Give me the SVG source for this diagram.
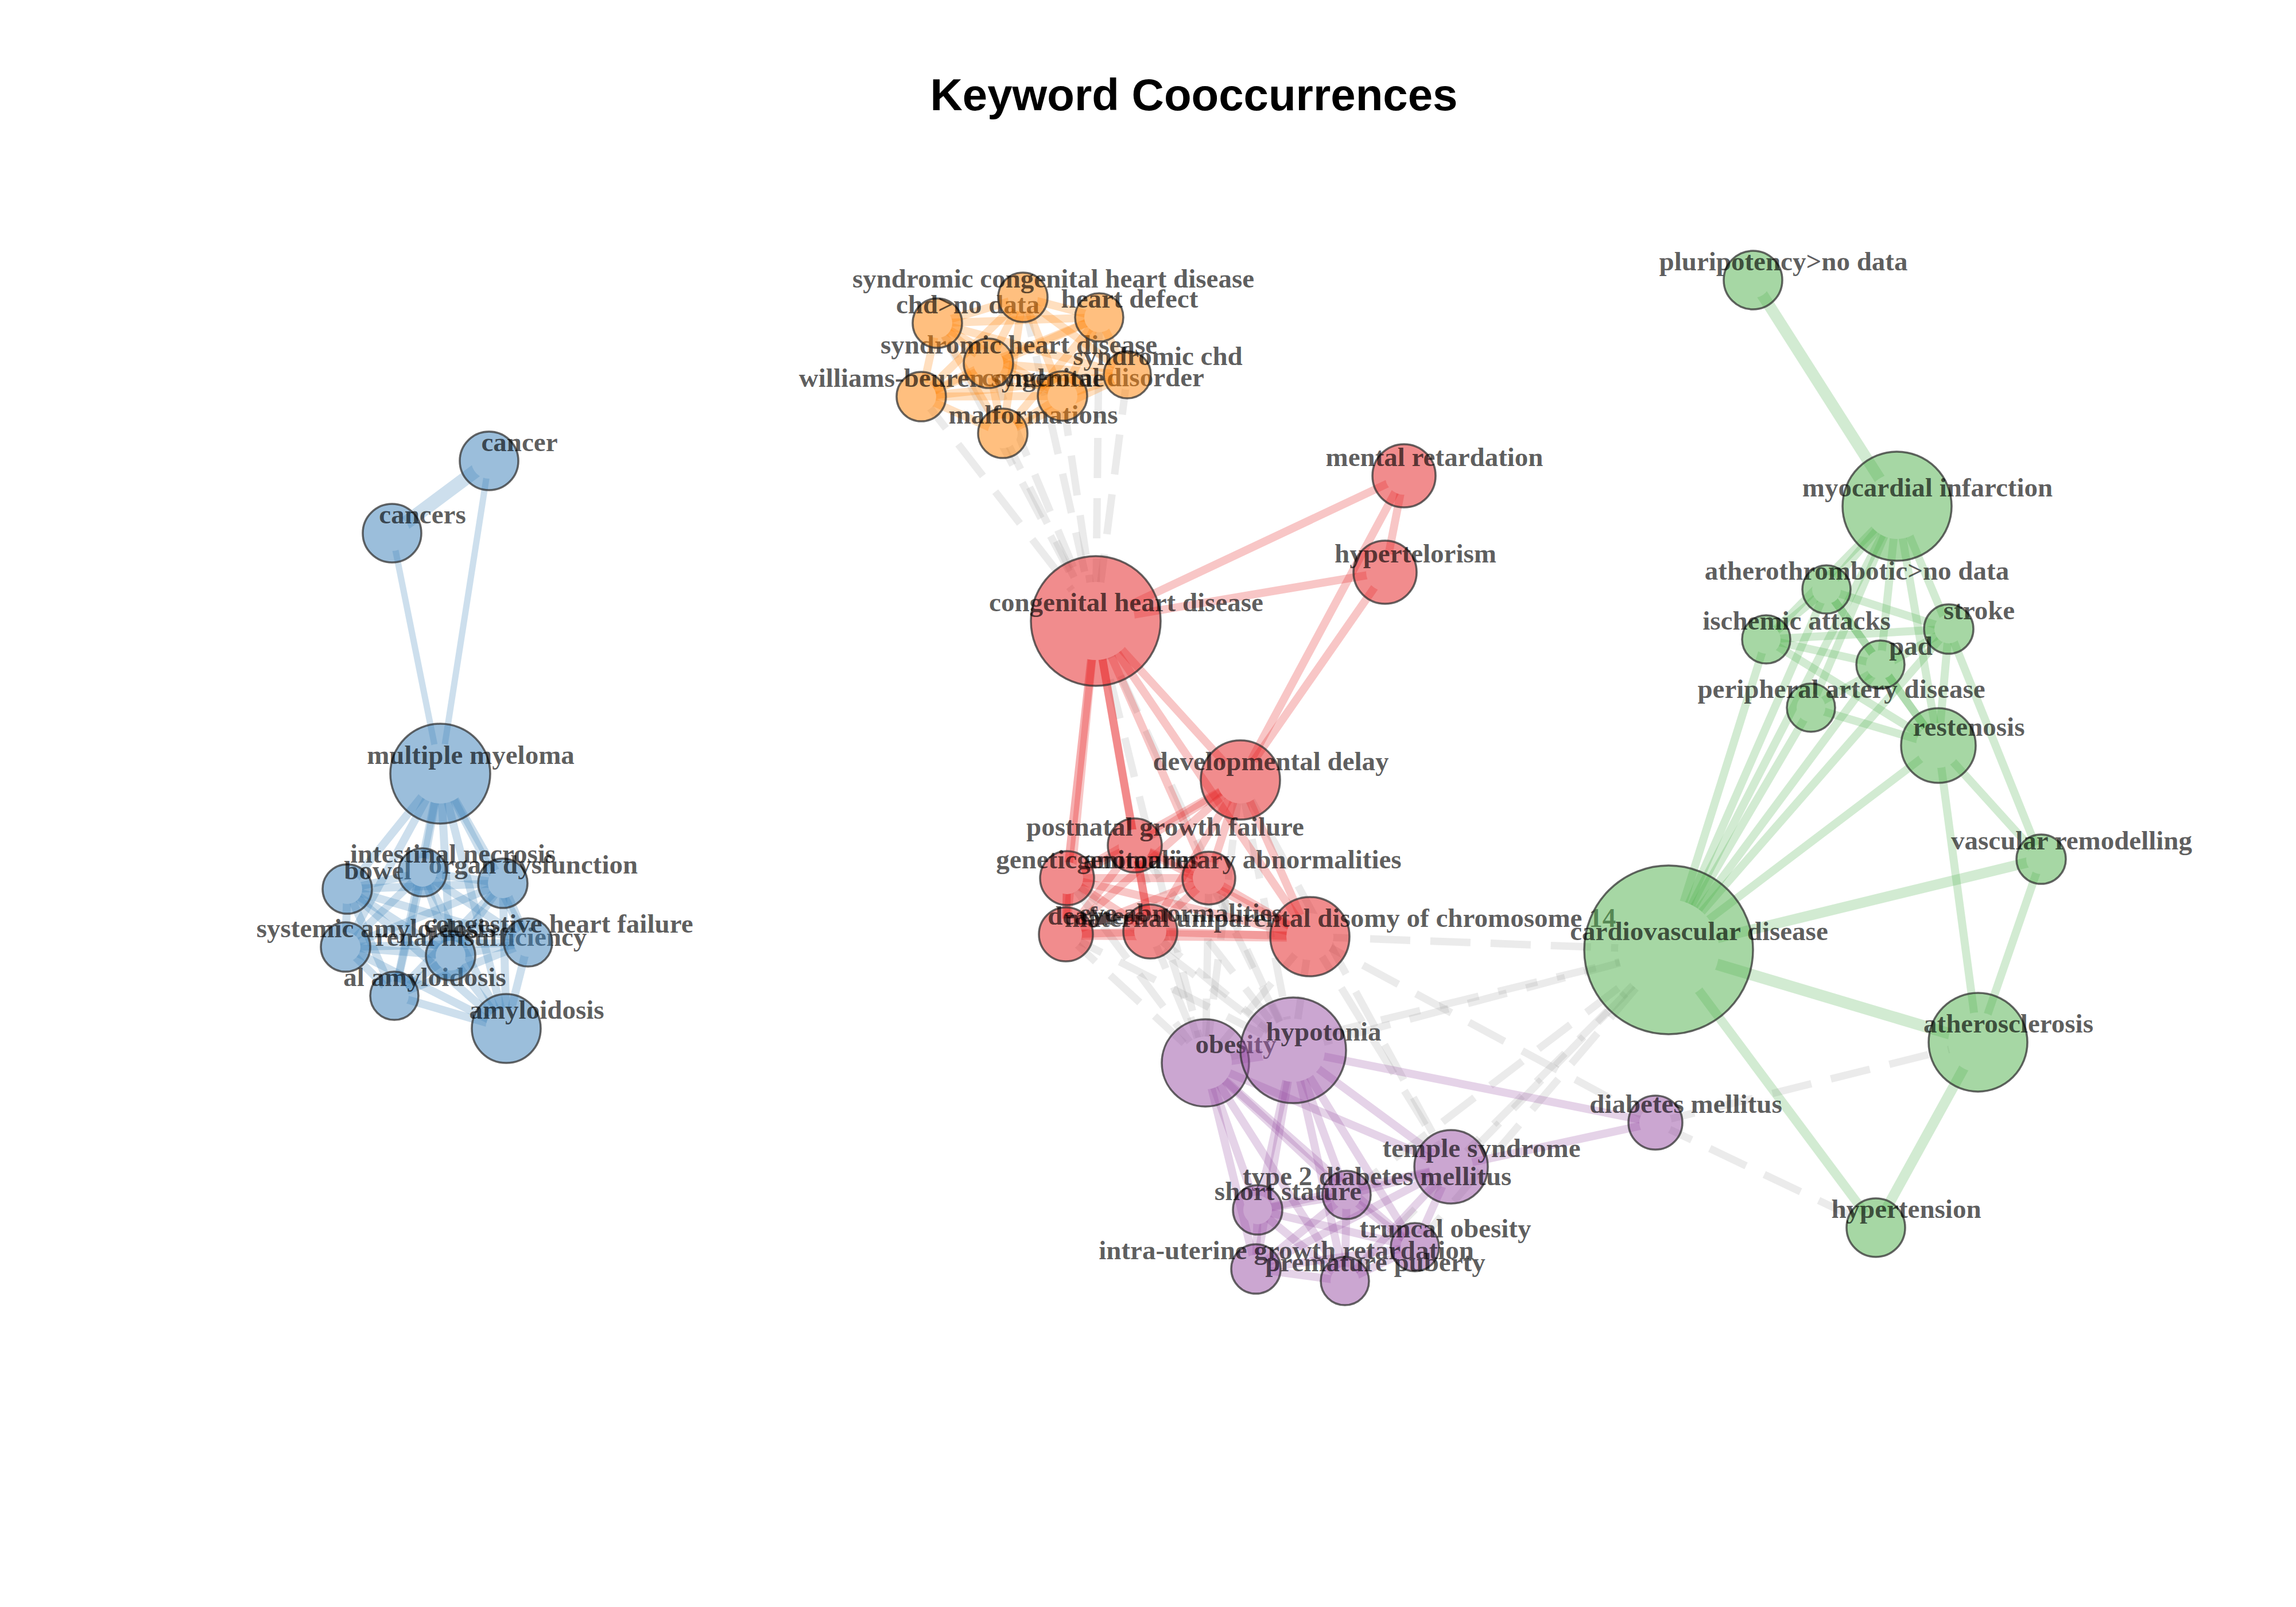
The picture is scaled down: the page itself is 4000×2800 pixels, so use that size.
<svg xmlns="http://www.w3.org/2000/svg" width="4000" height="2800" viewBox="0 0 4000 2800">
<style>
.e{fill:none;stroke-linecap:round;stroke-opacity:.25;stroke-width:14}
.eb{stroke:#377EB8}.eo{stroke:#FF7F00}.er{stroke:#E41A1C}.ep{stroke:#984EA3}.eg{stroke:#4DAF4A}
.ex{stroke:#9a9a9a;stroke-opacity:.2;stroke-dasharray:70 35;stroke-width:13;stroke-linecap:butt}
.n{fill-opacity:.5;stroke:#333;stroke-opacity:.75;stroke-width:3.5}
.nb{fill:#377EB8}.no{fill:#FF7F00}.nr{fill:#E41A1C}.np{fill:#984EA3}.ng{fill:#4DAF4A}
.l{font-family:"Liberation Serif","Times New Roman",serif;font-weight:bold;font-size:47px;fill:#000;fill-opacity:.65;text-anchor:middle}
.t{font-family:"Liberation Sans",Arial,sans-serif;font-weight:bold;font-size:78px;fill:#000;text-anchor:middle}
</style>
<defs>
<mask id="hole" maskUnits="userSpaceOnUse" x="0" y="0" width="4000" height="2800">
<rect x="0" y="0" width="4000" height="2800" fill="#fff"/>
<g fill="#000">
<circle cx="852" cy="803" r="31"/><circle cx="683" cy="929" r="31"/><circle cx="767" cy="1348" r="52"/><circle cx="605" cy="1549" r="26"/><circle cx="736" cy="1520" r="25"/><circle cx="876" cy="1539" r="26"/><circle cx="602" cy="1650" r="26"/><circle cx="785" cy="1665" r="26"/><circle cx="920" cy="1642" r="25"/><circle cx="687" cy="1735" r="25"/><circle cx="882" cy="1792" r="36"/>
<circle cx="1782" cy="518" r="26"/><circle cx="1633" cy="563" r="26"/><circle cx="1915" cy="553" r="26"/><circle cx="1722" cy="633" r="26"/><circle cx="1964" cy="653" r="26"/><circle cx="1605" cy="691" r="26"/><circle cx="1851" cy="690" r="26"/><circle cx="1747" cy="755" r="26"/>
<circle cx="1909" cy="1082" r="68"/><circle cx="2446" cy="829" r="33"/><circle cx="2413" cy="997" r="33"/><circle cx="2161" cy="1359" r="41"/><circle cx="1977" cy="1473" r="28"/><circle cx="1859" cy="1530" r="28"/><circle cx="2106" cy="1530" r="28"/><circle cx="1857" cy="1628" r="28"/><circle cx="2004" cy="1623" r="28"/><circle cx="2282" cy="1632" r="41"/>
<circle cx="2100" cy="1852" r="46"/><circle cx="2253" cy="1830" r="55"/><circle cx="2884" cy="1956" r="28"/><circle cx="2528" cy="2033" r="38"/><circle cx="2346" cy="2082" r="25"/><circle cx="2191" cy="2108" r="25"/><circle cx="2465" cy="2173" r="25"/><circle cx="2188" cy="2211" r="25"/><circle cx="2343" cy="2232" r="25"/>
<circle cx="3054" cy="488" r="31"/><circle cx="3305" cy="882" r="57"/><circle cx="3182" cy="1027" r="25"/><circle cx="3077" cy="1114" r="25"/><circle cx="3395" cy="1096" r="25"/><circle cx="3276" cy="1158" r="25"/><circle cx="3155" cy="1233" r="25"/><circle cx="3377" cy="1299" r="39"/><circle cx="3556" cy="1497" r="26"/><circle cx="2907" cy="1655" r="88"/><circle cx="3446" cy="1816" r="52"/><circle cx="3268" cy="2139" r="31"/>
</g>
</mask>
</defs>
<rect x="0" y="0" width="4000" height="2800" fill="#fff"/>
<text class="t" x="2080" y="192">Keyword Cooccurrences</text>

<g id="connectors" mask="url(#hole)">
<!-- gray inter-cluster -->
<g class="e ex">
<line x1="1782" y1="518" x2="1909" y2="1082"/><line x1="1633" y1="563" x2="1909" y2="1082"/><line x1="1915" y1="553" x2="1909" y2="1082"/><line x1="1722" y1="633" x2="1909" y2="1082"/><line x1="1964" y1="653" x2="1909" y2="1082"/><line x1="1605" y1="691" x2="1909" y2="1082"/><line x1="1851" y1="690" x2="1909" y2="1082"/><line x1="1747" y1="755" x2="1909" y2="1082"/>
<line x1="1909" y1="1082" x2="2100" y2="1852"/><line x1="1909" y1="1082" x2="2253" y2="1830"/>
<line x1="2161" y1="1359" x2="2100" y2="1852"/><line x1="2161" y1="1359" x2="2253" y2="1830"/><line x1="2161" y1="1359" x2="2528" y2="2033"/>
<line x1="1977" y1="1473" x2="2100" y2="1852"/><line x1="1977" y1="1473" x2="2253" y2="1830"/>
<line x1="1859" y1="1530" x2="2100" y2="1852"/><line x1="1859" y1="1530" x2="2253" y2="1830"/>
<line x1="2106" y1="1530" x2="2100" y2="1852"/><line x1="2106" y1="1530" x2="2253" y2="1830"/>
<line x1="1857" y1="1628" x2="2100" y2="1852"/><line x1="1857" y1="1628" x2="2253" y2="1830"/>
<line x1="2004" y1="1623" x2="2100" y2="1852"/><line x1="2004" y1="1623" x2="2253" y2="1830"/>
<line x1="2282" y1="1632" x2="2100" y2="1852"/><line x1="2282" y1="1632" x2="2253" y2="1830"/>
<line x1="2282" y1="1632" x2="2884" y2="1956"/><line x1="2282" y1="1632" x2="2528" y2="2033"/>
<line x1="2282" y1="1632" x2="2907" y2="1655"/>
<line x1="2100" y1="1852" x2="2907" y2="1655"/><line x1="2253" y1="1830" x2="2907" y2="1655"/><line x1="2528" y1="2033" x2="2907" y2="1655"/><line x1="2346" y1="2082" x2="2907" y2="1655"/><line x1="2465" y1="2173" x2="2907" y2="1655"/><line x1="2343" y1="2232" x2="2907" y2="1655"/>
<line x1="2884" y1="1956" x2="3446" y2="1816"/><line x1="2884" y1="1956" x2="3268" y2="2139"/>
</g>
<!-- blue -->
<g class="e eb">
<line x1="852" y1="803" x2="683" y2="929" stroke-width="24"/><line x1="852" y1="803" x2="767" y2="1348" stroke-width="11"/><line x1="683" y1="929" x2="767" y2="1348" stroke-width="11"/>
<line x1="767" y1="1348" x2="605" y2="1549"/><line x1="767" y1="1348" x2="736" y2="1520"/><line x1="767" y1="1348" x2="876" y2="1539"/><line x1="767" y1="1348" x2="602" y2="1650"/><line x1="767" y1="1348" x2="785" y2="1665"/><line x1="767" y1="1348" x2="920" y2="1642"/><line x1="767" y1="1348" x2="687" y2="1735"/><line x1="767" y1="1348" x2="882" y2="1792"/>
<line x1="605" y1="1549" x2="736" y2="1520"/><line x1="605" y1="1549" x2="876" y2="1539"/><line x1="605" y1="1549" x2="602" y2="1650"/><line x1="605" y1="1549" x2="785" y2="1665"/><line x1="605" y1="1549" x2="920" y2="1642"/><line x1="605" y1="1549" x2="687" y2="1735"/><line x1="605" y1="1549" x2="882" y2="1792"/>
<line x1="736" y1="1520" x2="876" y2="1539"/><line x1="736" y1="1520" x2="602" y2="1650"/><line x1="736" y1="1520" x2="785" y2="1665"/><line x1="736" y1="1520" x2="920" y2="1642"/><line x1="736" y1="1520" x2="687" y2="1735"/><line x1="736" y1="1520" x2="882" y2="1792"/>
<line x1="876" y1="1539" x2="602" y2="1650"/><line x1="876" y1="1539" x2="785" y2="1665"/><line x1="876" y1="1539" x2="920" y2="1642"/><line x1="876" y1="1539" x2="687" y2="1735"/><line x1="876" y1="1539" x2="882" y2="1792"/>
<line x1="602" y1="1650" x2="785" y2="1665"/><line x1="602" y1="1650" x2="920" y2="1642"/><line x1="602" y1="1650" x2="687" y2="1735"/><line x1="602" y1="1650" x2="882" y2="1792"/>
<line x1="785" y1="1665" x2="920" y2="1642"/><line x1="785" y1="1665" x2="687" y2="1735"/><line x1="785" y1="1665" x2="882" y2="1792"/>
<line x1="920" y1="1642" x2="687" y2="1735"/><line x1="920" y1="1642" x2="882" y2="1792"/><line x1="687" y1="1735" x2="882" y2="1792"/>
</g>
<!-- orange -->
<g class="e eo">
<line x1="1782" y1="518" x2="1633" y2="563"/><line x1="1782" y1="518" x2="1915" y2="553"/><line x1="1782" y1="518" x2="1722" y2="633"/><line x1="1782" y1="518" x2="1964" y2="653"/><line x1="1782" y1="518" x2="1605" y2="691"/><line x1="1782" y1="518" x2="1851" y2="690"/><line x1="1782" y1="518" x2="1747" y2="755"/>
<line x1="1633" y1="563" x2="1915" y2="553"/><line x1="1633" y1="563" x2="1722" y2="633"/><line x1="1633" y1="563" x2="1964" y2="653"/><line x1="1633" y1="563" x2="1605" y2="691"/><line x1="1633" y1="563" x2="1851" y2="690"/><line x1="1633" y1="563" x2="1747" y2="755"/>
<line x1="1915" y1="553" x2="1722" y2="633"/><line x1="1915" y1="553" x2="1964" y2="653"/><line x1="1915" y1="553" x2="1605" y2="691"/><line x1="1915" y1="553" x2="1851" y2="690"/><line x1="1915" y1="553" x2="1747" y2="755"/>
<line x1="1722" y1="633" x2="1964" y2="653"/><line x1="1722" y1="633" x2="1605" y2="691"/><line x1="1722" y1="633" x2="1851" y2="690"/><line x1="1722" y1="633" x2="1747" y2="755"/>
<line x1="1964" y1="653" x2="1605" y2="691"/><line x1="1964" y1="653" x2="1851" y2="690"/><line x1="1964" y1="653" x2="1747" y2="755"/>
<line x1="1605" y1="691" x2="1851" y2="690"/><line x1="1605" y1="691" x2="1747" y2="755"/><line x1="1851" y1="690" x2="1747" y2="755"/>
</g>
<!-- red -->
<g class="e er">
<line x1="1909" y1="1082" x2="2446" y2="829"/><line x1="1909" y1="1082" x2="2413" y2="997"/><line x1="1909" y1="1082" x2="2161" y2="1359"/><line x1="1909" y1="1082" x2="1977" y2="1473"/><line x1="1909" y1="1082" x2="1859" y2="1530" stroke-width="15" stroke-opacity=".35"/><line x1="1909" y1="1082" x2="2106" y2="1530"/><line x1="1909" y1="1082" x2="1857" y2="1628"/><line x1="1909" y1="1082" x2="2004" y2="1623" stroke-width="14" stroke-opacity=".35"/><line x1="1909" y1="1082" x2="2282" y2="1632"/>
<line x1="2446" y1="829" x2="2413" y2="997"/><line x1="2446" y1="829" x2="2161" y2="1359"/><line x1="2413" y1="997" x2="2161" y2="1359"/>
<line x1="2161" y1="1359" x2="1977" y2="1473"/><line x1="2161" y1="1359" x2="1859" y2="1530"/><line x1="2161" y1="1359" x2="2106" y2="1530"/><line x1="2161" y1="1359" x2="1857" y2="1628"/><line x1="2161" y1="1359" x2="2004" y2="1623"/><line x1="2161" y1="1359" x2="2282" y2="1632"/>
<line x1="1977" y1="1473" x2="1859" y2="1530"/><line x1="1977" y1="1473" x2="2106" y2="1530"/><line x1="1977" y1="1473" x2="1857" y2="1628"/><line x1="1977" y1="1473" x2="2004" y2="1623"/><line x1="1977" y1="1473" x2="2282" y2="1632"/>
<line x1="1859" y1="1530" x2="2106" y2="1530"/><line x1="1859" y1="1530" x2="1857" y2="1628" stroke-opacity=".4"/><line x1="1859" y1="1530" x2="2004" y2="1623"/><line x1="1859" y1="1530" x2="2282" y2="1632"/>
<line x1="2106" y1="1530" x2="1857" y2="1628"/><line x1="2106" y1="1530" x2="2004" y2="1623"/><line x1="2106" y1="1530" x2="2282" y2="1632"/>
<line x1="1857" y1="1628" x2="2004" y2="1623"/><line x1="1857" y1="1628" x2="2282" y2="1632" stroke-width="18"/><line x1="2004" y1="1623" x2="2282" y2="1632"/>
</g>
<!-- purple -->
<g class="e ep">
<line x1="2100" y1="1852" x2="2253" y2="1830" stroke-width="20"/><line x1="2253" y1="1830" x2="2884" y2="1956"/><line x1="2528" y1="2033" x2="2884" y2="1956"/>
<line x1="2100" y1="1852" x2="2528" y2="2033"/><line x1="2100" y1="1852" x2="2346" y2="2082"/><line x1="2100" y1="1852" x2="2191" y2="2108"/><line x1="2100" y1="1852" x2="2465" y2="2173"/><line x1="2100" y1="1852" x2="2188" y2="2211"/><line x1="2100" y1="1852" x2="2343" y2="2232"/>
<line x1="2253" y1="1830" x2="2528" y2="2033"/><line x1="2253" y1="1830" x2="2346" y2="2082"/><line x1="2253" y1="1830" x2="2191" y2="2108"/><line x1="2253" y1="1830" x2="2465" y2="2173"/><line x1="2253" y1="1830" x2="2188" y2="2211"/><line x1="2253" y1="1830" x2="2343" y2="2232"/>
<line x1="2528" y1="2033" x2="2346" y2="2082"/><line x1="2528" y1="2033" x2="2191" y2="2108"/><line x1="2528" y1="2033" x2="2465" y2="2173"/><line x1="2528" y1="2033" x2="2188" y2="2211"/><line x1="2528" y1="2033" x2="2343" y2="2232"/>
<line x1="2346" y1="2082" x2="2191" y2="2108"/><line x1="2346" y1="2082" x2="2465" y2="2173"/><line x1="2346" y1="2082" x2="2188" y2="2211"/><line x1="2346" y1="2082" x2="2343" y2="2232"/>
<line x1="2191" y1="2108" x2="2465" y2="2173"/><line x1="2191" y1="2108" x2="2188" y2="2211"/><line x1="2191" y1="2108" x2="2343" y2="2232"/>
<line x1="2465" y1="2173" x2="2188" y2="2211"/><line x1="2465" y1="2173" x2="2343" y2="2232"/><line x1="2188" y1="2211" x2="2343" y2="2232"/>
</g>
<!-- green -->
<g class="e eg">
<line x1="3054" y1="488" x2="3305" y2="882" stroke-width="20"/>
<line x1="3305" y1="882" x2="3182" y2="1027"/><line x1="3305" y1="882" x2="3077" y2="1114"/><line x1="3305" y1="882" x2="3395" y2="1096"/><line x1="3305" y1="882" x2="3276" y2="1158"/><line x1="3305" y1="882" x2="3155" y2="1233"/><line x1="3305" y1="882" x2="3377" y2="1299"/><line x1="3305" y1="882" x2="2907" y2="1655"/>
<line x1="2907" y1="1655" x2="3182" y2="1027"/><line x1="2907" y1="1655" x2="3077" y2="1114"/><line x1="2907" y1="1655" x2="3395" y2="1096"/><line x1="2907" y1="1655" x2="3276" y2="1158"/><line x1="2907" y1="1655" x2="3155" y2="1233"/><line x1="2907" y1="1655" x2="3377" y2="1299"/><line x1="2907" y1="1655" x2="3556" y2="1497" stroke-width="18"/><line x1="2907" y1="1655" x2="3446" y2="1816" stroke-width="20"/><line x1="2907" y1="1655" x2="3268" y2="2139" stroke-width="16"/>
<line x1="3182" y1="1027" x2="3077" y2="1114"/><line x1="3182" y1="1027" x2="3395" y2="1096"/><line x1="3182" y1="1027" x2="3276" y2="1158"/><line x1="3182" y1="1027" x2="3377" y2="1299"/>
<line x1="3077" y1="1114" x2="3395" y2="1096"/><line x1="3077" y1="1114" x2="3276" y2="1158"/><line x1="3077" y1="1114" x2="3377" y2="1299"/>
<line x1="3395" y1="1096" x2="3155" y2="1233"/><line x1="3395" y1="1096" x2="3377" y2="1299"/><line x1="3276" y1="1158" x2="3377" y2="1299"/><line x1="3155" y1="1233" x2="3377" y2="1299"/>
<line x1="3395" y1="1096" x2="3556" y2="1497"/><line x1="3377" y1="1299" x2="3556" y2="1497"/><line x1="3377" y1="1299" x2="3446" y2="1816"/><line x1="3556" y1="1497" x2="3446" y2="1816"/><line x1="3446" y1="1816" x2="3268" y2="2139" stroke-width="18"/>
</g>
</g>

<g id="nodes">
<g id="n-cancer"><circle class="n nb" cx="852" cy="803" r="51"/><text class="l" x="905" y="786">cancer</text></g>
<g id="n-cancers"><circle class="n nb" cx="683" cy="929" r="51"/><text class="l" x="736" y="912">cancers</text></g>
<g id="n-multiple-myeloma"><circle class="n nb" cx="767" cy="1348" r="87"/><text class="l" x="820" y="1331">multiple myeloma</text></g>
<g id="n-amyloidosis"><circle class="n nb" cx="882" cy="1792" r="60"/><text class="l" x="935" y="1775">amyloidosis</text></g>
<g id="n-al-amyloidosis"><circle class="n nb" cx="687" cy="1735" r="42"/><text class="l" x="740" y="1718">al amyloidosis</text></g>
<g id="n-renal-insufficiency"><circle class="n nb" cx="785" cy="1665" r="43"/><text class="l" x="838" y="1648">renal insufficiency</text></g>
<g id="n-systemic-amyloidosis"><circle class="n nb" cx="602" cy="1650" r="43"/><text class="l" x="655" y="1633">systemic amyloidosis</text></g>
<g id="n-congestive-heart-failure"><circle class="n nb" cx="920" cy="1642" r="42"/><text class="l" x="973" y="1625">congestive heart failure</text></g>
<g id="n-bowel"><circle class="n nb" cx="605" cy="1549" r="43"/><text class="l" x="658" y="1532">bowel</text></g>
<g id="n-organ-dysfunction"><circle class="n nb" cx="876" cy="1539" r="43"/><text class="l" x="929" y="1522">organ dysfunction</text></g>
<g id="n-intestinal-necrosis"><circle class="n nb" cx="736" cy="1520" r="42"/><text class="l" x="789" y="1503">intestinal necrosis</text></g>

<g id="n-malformations"><circle class="n no" cx="1747" cy="755" r="43"/><text class="l" x="1800" y="738">malformations</text></g>
<g id="n-williams-beuren-syndrome"><circle class="n no" cx="1605" cy="691" r="43"/><text class="l" x="1658" y="674">williams-beuren syndrome</text></g>
<g id="n-congenital-disorder"><circle class="n no" cx="1851" cy="690" r="43"/><text class="l" x="1904" y="673">congenital disorder</text></g>
<g id="n-syndromic-chd"><circle class="n no" cx="1964" cy="653" r="41"/><text class="l" x="2017" y="636">syndromic chd</text></g>
<g id="n-syndromic-heart-disease"><circle class="n no" cx="1722" cy="633" r="43"/><text class="l" x="1775" y="616">syndromic heart disease</text></g>
<g id="n-chd-no-data"><circle class="n no" cx="1633" cy="563" r="43"/><text class="l" x="1686" y="546">chd&gt;no data</text></g>
<g id="n-heart-defect"><circle class="n no" cx="1915" cy="553" r="42"/><text class="l" x="1968" y="536">heart defect</text></g>
<g id="n-syndromic-congenital-heart-disease"><circle class="n no" cx="1782" cy="518" r="43"/><text class="l" x="1835" y="501">syndromic congenital heart disease</text></g>

<g id="n-congenital-heart-disease"><circle class="n nr" cx="1909" cy="1082" r="113"/><text class="l" x="1962" y="1065">congenital heart disease</text></g>
<g id="n-mental-retardation"><circle class="n nr" cx="2446" cy="829" r="55"/><text class="l" x="2499" y="812">mental retardation</text></g>
<g id="n-hypertelorism"><circle class="n nr" cx="2413" cy="997" r="55"/><text class="l" x="2466" y="980">hypertelorism</text></g>
<g id="n-developmental-delay"><circle class="n nr" cx="2161" cy="1359" r="69"/><text class="l" x="2214" y="1342">developmental delay</text></g>
<g id="n-postnatal-growth-failure"><circle class="n nr" cx="1977" cy="1473" r="47"/><text class="l" x="2030" y="1456">postnatal growth failure</text></g>
<g id="n-genetic-anomalies"><circle class="n nr" cx="1859" cy="1530" r="47"/><text class="l" x="1912" y="1513">genetic anomalies</text></g>
<g id="n-genitourinary-abnormalities"><circle class="n nr" cx="2106" cy="1530" r="46"/><text class="l" x="2159" y="1513">genitourinary abnormalities</text></g>
<g id="n-deafness"><circle class="n nr" cx="1857" cy="1628" r="47"/><text class="l" x="1910" y="1611">deafness</text></g>
<g id="n-eye-abnormalities"><circle class="n nr" cx="2004" cy="1623" r="47"/><text class="l" x="2057" y="1606">eye abnormalities</text></g>
<g id="n-maternal-uniparental-disomy"><circle class="n nr" cx="2282" cy="1632" r="69"/><text class="l" x="2335" y="1615">maternal uniparental disomy of chromosome 14</text></g>

<g id="n-obesity"><circle class="n np" cx="2100" cy="1852" r="76"/><text class="l" x="2153" y="1835">obesity</text></g>
<g id="n-hypotonia"><circle class="n np" cx="2253" cy="1830" r="92"/><text class="l" x="2306" y="1813">hypotonia</text></g>
<g id="n-diabetes-mellitus"><circle class="n np" cx="2884" cy="1956" r="47"/><text class="l" x="2937" y="1939">diabetes mellitus</text></g>
<g id="n-temple-syndrome"><circle class="n np" cx="2528" cy="2033" r="64"/><text class="l" x="2581" y="2016">temple syndrome</text></g>
<g id="n-type-2-diabetes-mellitus"><circle class="n np" cx="2346" cy="2082" r="42"/><text class="l" x="2399" y="2065">type 2 diabetes mellitus</text></g>
<g id="n-short-stature"><circle class="n np" cx="2191" cy="2108" r="43"/><text class="l" x="2244" y="2091">short stature</text></g>
<g id="n-truncal-obesity"><circle class="n np" cx="2465" cy="2173" r="42"/><text class="l" x="2518" y="2156">truncal obesity</text></g>
<g id="n-intra-uterine-growth-retardation"><circle class="n np" cx="2188" cy="2211" r="43"/><text class="l" x="2241" y="2194">intra-uterine growth retardation</text></g>
<g id="n-premature-puberty"><circle class="n np" cx="2343" cy="2232" r="42"/><text class="l" x="2396" y="2215">premature puberty</text></g>

<g id="n-pluripotency-no-data"><circle class="n ng" cx="3054" cy="488" r="51"/><text class="l" x="3107" y="471">pluripotency&gt;no data</text></g>
<g id="n-myocardial-infarction"><circle class="n ng" cx="3305" cy="882" r="95"/><text class="l" x="3358" y="865">myocardial infarction</text></g>
<g id="n-atherothrombotic-no-data"><circle class="n ng" cx="3182" cy="1027" r="42"/><text class="l" x="3235" y="1010">atherothrombotic&gt;no data</text></g>
<g id="n-ischemic-attacks"><circle class="n ng" cx="3077" cy="1114" r="42"/><text class="l" x="3130" y="1097">ischemic attacks</text></g>
<g id="n-stroke"><circle class="n ng" cx="3395" cy="1096" r="43"/><text class="l" x="3448" y="1079">stroke</text></g>
<g id="n-pad"><circle class="n ng" cx="3276" cy="1158" r="42"/><text class="l" x="3329" y="1141">pad</text></g>
<g id="n-peripheral-artery-disease"><circle class="n ng" cx="3155" cy="1233" r="42"/><text class="l" x="3208" y="1216">peripheral artery disease</text></g>
<g id="n-restenosis"><circle class="n ng" cx="3377" cy="1299" r="65"/><text class="l" x="3430" y="1282">restenosis</text></g>
<g id="n-vascular-remodelling"><circle class="n ng" cx="3556" cy="1497" r="43"/><text class="l" x="3609" y="1480">vascular remodelling</text></g>
<g id="n-cardiovascular-disease"><circle class="n ng" cx="2907" cy="1655" r="147"/><text class="l" x="2960" y="1638">cardiovascular disease</text></g>
<g id="n-atherosclerosis"><circle class="n ng" cx="3446" cy="1816" r="86"/><text class="l" x="3499" y="1799">atherosclerosis</text></g>
<g id="n-hypertension"><circle class="n ng" cx="3268" cy="2139" r="51"/><text class="l" x="3321" y="2122">hypertension</text></g>
</g>
</svg>
